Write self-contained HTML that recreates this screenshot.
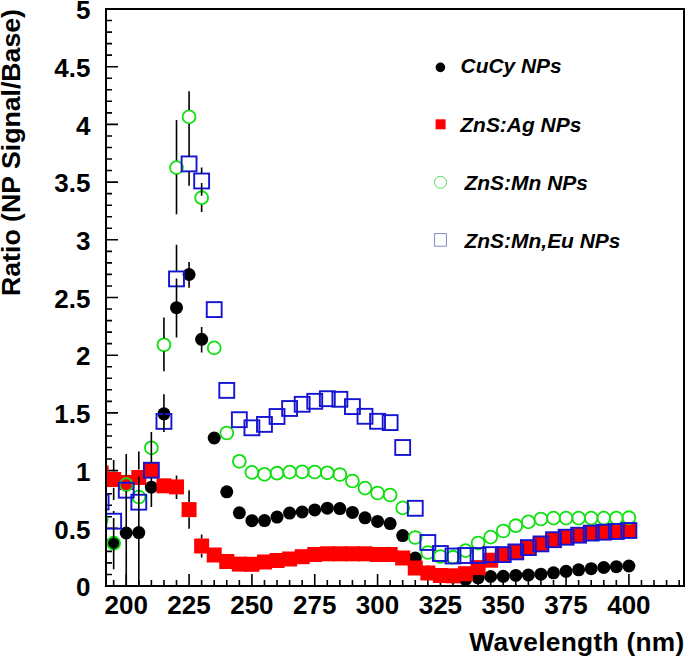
<!DOCTYPE html><html><head><meta charset="utf-8"><style>html,body{margin:0;padding:0;background:#fff;}svg{display:block;}text{font-family:"Liberation Sans",sans-serif;font-weight:bold;}</style></head><body>
<svg width="685" height="658" viewBox="0 0 685 658">
<defs><clipPath id="c"><rect x="107" y="10" width="576" height="575"/></clipPath></defs>
<path d="M107 586.00h11 M107 574.46h5 M107 562.92h5 M107 551.38h5 M107 539.84h5 M107 528.30h11 M107 516.76h5 M107 505.22h5 M107 493.68h5 M107 482.14h5 M107 470.60h11 M107 459.06h5 M107 447.52h5 M107 435.98h5 M107 424.44h5 M107 412.90h11 M107 401.36h5 M107 389.82h5 M107 378.28h5 M107 366.74h5 M107 355.20h11 M107 343.66h5 M107 332.12h5 M107 320.58h5 M107 309.04h5 M107 297.50h11 M107 285.96h5 M107 274.42h5 M107 262.88h5 M107 251.34h5 M107 239.80h11 M107 228.26h5 M107 216.72h5 M107 205.18h5 M107 193.64h5 M107 182.10h11 M107 170.56h5 M107 159.02h5 M107 147.48h5 M107 135.94h5 M107 124.40h11 M107 112.86h5 M107 101.32h5 M107 89.78h5 M107 78.24h5 M107 66.70h11 M107 55.16h5 M107 43.62h5 M107 32.08h5 M107 20.54h5 M107 9.00h11 M113.67 585v-5 M126.24 585v-11 M138.81 585v-5 M151.37 585v-5 M163.94 585v-5 M176.51 585v-5 M189.07 585v-11 M201.64 585v-5 M214.21 585v-5 M226.77 585v-5 M239.34 585v-5 M251.91 585v-11 M264.47 585v-5 M277.04 585v-5 M289.60 585v-5 M302.17 585v-5 M314.74 585v-11 M327.30 585v-5 M339.87 585v-5 M352.44 585v-5 M365.00 585v-5 M377.57 585v-11 M390.14 585v-5 M402.70 585v-5 M415.27 585v-5 M427.84 585v-5 M440.40 585v-11 M452.97 585v-5 M465.54 585v-5 M478.10 585v-5 M490.67 585v-5 M503.24 585v-11 M515.80 585v-5 M528.37 585v-5 M540.93 585v-5 M553.50 585v-5 M566.07 585v-11 M578.63 585v-5 M591.20 585v-5 M603.77 585v-5 M616.33 585v-5 M628.90 585v-11 M641.47 585v-5 M654.03 585v-5 M666.60 585v-5 M679.17 585v-5" stroke="#000" stroke-width="1.6" fill="none"/>
<g clip-path="url(#c)">
<circle cx="113.67" cy="543.2" r="6.5" fill="#000"/>
<circle cx="126.24" cy="533" r="6.5" fill="#000"/>
<circle cx="138.81" cy="532.6" r="6.5" fill="#000"/>
<circle cx="151.37" cy="487.2" r="6.5" fill="#000"/>
<circle cx="163.94" cy="413.8" r="6.5" fill="#000"/>
<circle cx="176.51" cy="307.7" r="6.5" fill="#000"/>
<circle cx="189.07" cy="274.5" r="6.5" fill="#000"/>
<circle cx="201.64" cy="339.3" r="6.5" fill="#000"/>
<circle cx="214.21" cy="438" r="6.5" fill="#000"/>
<circle cx="226.77" cy="491.8" r="6.5" fill="#000"/>
<circle cx="239.34" cy="512.8" r="6.5" fill="#000"/>
<circle cx="251.91" cy="520.7" r="6.5" fill="#000"/>
<circle cx="264.47" cy="520.6" r="6.5" fill="#000"/>
<circle cx="277.04" cy="517.1" r="6.5" fill="#000"/>
<circle cx="289.60" cy="513.1" r="6.5" fill="#000"/>
<circle cx="302.17" cy="512" r="6.5" fill="#000"/>
<circle cx="314.74" cy="509.9" r="6.5" fill="#000"/>
<circle cx="327.30" cy="508.2" r="6.5" fill="#000"/>
<circle cx="339.87" cy="508.6" r="6.5" fill="#000"/>
<circle cx="352.44" cy="512.4" r="6.5" fill="#000"/>
<circle cx="365.00" cy="517.8" r="6.5" fill="#000"/>
<circle cx="377.57" cy="521.4" r="6.5" fill="#000"/>
<circle cx="390.14" cy="523.6" r="6.5" fill="#000"/>
<circle cx="402.70" cy="535.6" r="6.5" fill="#000"/>
<circle cx="415.27" cy="558" r="6.5" fill="#000"/>
<circle cx="427.84" cy="572" r="6.5" fill="#000"/>
<circle cx="440.40" cy="576" r="6.5" fill="#000"/>
<circle cx="452.97" cy="577" r="6.5" fill="#000"/>
<circle cx="465.54" cy="579.5" r="6.5" fill="#000"/>
<circle cx="478.10" cy="577.8" r="6.5" fill="#000"/>
<circle cx="490.67" cy="576.5" r="6.5" fill="#000"/>
<circle cx="503.24" cy="576.3" r="6.5" fill="#000"/>
<circle cx="515.80" cy="575.4" r="6.5" fill="#000"/>
<circle cx="528.37" cy="575.0" r="6.5" fill="#000"/>
<circle cx="540.93" cy="574.2" r="6.5" fill="#000"/>
<circle cx="553.50" cy="572.8" r="6.5" fill="#000"/>
<circle cx="566.07" cy="571.3" r="6.5" fill="#000"/>
<circle cx="578.63" cy="569.8" r="6.5" fill="#000"/>
<circle cx="591.20" cy="568.7" r="6.5" fill="#000"/>
<circle cx="603.77" cy="567.5" r="6.5" fill="#000"/>
<circle cx="616.33" cy="566.7" r="6.5" fill="#000"/>
<circle cx="628.90" cy="566" r="6.5" fill="#000"/>
<rect x="93.61" y="465.50" width="15.0" height="15.0" fill="#f00"/>
<rect x="106.17" y="472.00" width="15.0" height="15.0" fill="#f00"/>
<rect x="118.74" y="475.00" width="15.0" height="15.0" fill="#f00"/>
<rect x="131.31" y="470.00" width="15.0" height="15.0" fill="#f00"/>
<rect x="143.87" y="462.70" width="15.0" height="15.0" fill="#f00"/>
<rect x="156.44" y="478.30" width="15.0" height="15.0" fill="#f00"/>
<rect x="169.01" y="479.40" width="15.0" height="15.0" fill="#f00"/>
<rect x="181.57" y="502.10" width="15.0" height="15.0" fill="#f00"/>
<rect x="194.14" y="538.50" width="15.0" height="15.0" fill="#f00"/>
<rect x="206.71" y="547.50" width="15.0" height="15.0" fill="#f00"/>
<rect x="219.27" y="554.00" width="15.0" height="15.0" fill="#f00"/>
<rect x="231.84" y="556.60" width="15.0" height="15.0" fill="#f00"/>
<rect x="244.41" y="556.80" width="15.0" height="15.0" fill="#f00"/>
<rect x="256.97" y="554.50" width="15.0" height="15.0" fill="#f00"/>
<rect x="269.54" y="553.00" width="15.0" height="15.0" fill="#f00"/>
<rect x="282.10" y="551.50" width="15.0" height="15.0" fill="#f00"/>
<rect x="294.67" y="549.20" width="15.0" height="15.0" fill="#f00"/>
<rect x="307.24" y="547.00" width="15.0" height="15.0" fill="#f00"/>
<rect x="319.80" y="546.30" width="15.0" height="15.0" fill="#f00"/>
<rect x="332.37" y="546.30" width="15.0" height="15.0" fill="#f00"/>
<rect x="344.94" y="546.30" width="15.0" height="15.0" fill="#f00"/>
<rect x="357.50" y="546.30" width="15.0" height="15.0" fill="#f00"/>
<rect x="370.07" y="547.00" width="15.0" height="15.0" fill="#f00"/>
<rect x="382.64" y="547.00" width="15.0" height="15.0" fill="#f00"/>
<rect x="395.20" y="550.50" width="15.0" height="15.0" fill="#f00"/>
<rect x="407.77" y="560.50" width="15.0" height="15.0" fill="#f00"/>
<rect x="420.34" y="565.50" width="15.0" height="15.0" fill="#f00"/>
<rect x="432.90" y="568.00" width="15.0" height="15.0" fill="#f00"/>
<rect x="445.47" y="568.30" width="15.0" height="15.0" fill="#f00"/>
<rect x="458.04" y="566.20" width="15.0" height="15.0" fill="#f00"/>
<rect x="470.60" y="560.10" width="15.0" height="15.0" fill="#f00"/>
<rect x="483.17" y="552.70" width="15.0" height="15.0" fill="#f00"/>
<rect x="495.74" y="547.10" width="15.0" height="15.0" fill="#f00"/>
<rect x="508.30" y="544.50" width="15.0" height="15.0" fill="#f00"/>
<rect x="520.87" y="540.20" width="15.0" height="15.0" fill="#f00"/>
<rect x="533.43" y="537.00" width="15.0" height="15.0" fill="#f00"/>
<rect x="546.00" y="532.70" width="15.0" height="15.0" fill="#f00"/>
<rect x="558.57" y="530.10" width="15.0" height="15.0" fill="#f00"/>
<rect x="571.13" y="528.00" width="15.0" height="15.0" fill="#f00"/>
<rect x="583.70" y="526.00" width="15.0" height="15.0" fill="#f00"/>
<rect x="596.27" y="525.00" width="15.0" height="15.0" fill="#f00"/>
<rect x="608.83" y="524.30" width="15.0" height="15.0" fill="#f00"/>
<rect x="621.40" y="523.30" width="15.0" height="15.0" fill="#f00"/>
<circle cx="101.11" cy="520" r="6.45" fill="none" stroke="#10e010" stroke-width="1.8"/>
<circle cx="113.67" cy="543.2" r="6.45" fill="none" stroke="#10e010" stroke-width="1.8"/>
<circle cx="126.24" cy="484.6" r="6.45" fill="none" stroke="#10e010" stroke-width="1.8"/>
<circle cx="138.81" cy="497" r="6.45" fill="none" stroke="#10e010" stroke-width="1.8"/>
<circle cx="151.37" cy="447.8" r="6.45" fill="none" stroke="#10e010" stroke-width="1.8"/>
<circle cx="163.94" cy="344.8" r="6.45" fill="none" stroke="#10e010" stroke-width="1.8"/>
<circle cx="176.51" cy="167.6" r="6.45" fill="none" stroke="#10e010" stroke-width="1.8"/>
<circle cx="189.07" cy="116.9" r="6.45" fill="none" stroke="#10e010" stroke-width="1.8"/>
<circle cx="201.64" cy="197.7" r="6.45" fill="none" stroke="#10e010" stroke-width="1.8"/>
<circle cx="214.21" cy="347.9" r="6.45" fill="none" stroke="#10e010" stroke-width="1.8"/>
<circle cx="226.77" cy="433" r="6.45" fill="none" stroke="#10e010" stroke-width="1.8"/>
<circle cx="239.34" cy="461.3" r="6.45" fill="none" stroke="#10e010" stroke-width="1.8"/>
<circle cx="251.91" cy="472.4" r="6.45" fill="none" stroke="#10e010" stroke-width="1.8"/>
<circle cx="264.47" cy="474.3" r="6.45" fill="none" stroke="#10e010" stroke-width="1.8"/>
<circle cx="277.04" cy="473.2" r="6.45" fill="none" stroke="#10e010" stroke-width="1.8"/>
<circle cx="289.60" cy="472.1" r="6.45" fill="none" stroke="#10e010" stroke-width="1.8"/>
<circle cx="302.17" cy="471.8" r="6.45" fill="none" stroke="#10e010" stroke-width="1.8"/>
<circle cx="314.74" cy="472.0" r="6.45" fill="none" stroke="#10e010" stroke-width="1.8"/>
<circle cx="327.30" cy="472.8" r="6.45" fill="none" stroke="#10e010" stroke-width="1.8"/>
<circle cx="339.87" cy="474.5" r="6.45" fill="none" stroke="#10e010" stroke-width="1.8"/>
<circle cx="352.44" cy="481" r="6.45" fill="none" stroke="#10e010" stroke-width="1.8"/>
<circle cx="365.00" cy="488.1" r="6.45" fill="none" stroke="#10e010" stroke-width="1.8"/>
<circle cx="377.57" cy="493" r="6.45" fill="none" stroke="#10e010" stroke-width="1.8"/>
<circle cx="390.14" cy="495" r="6.45" fill="none" stroke="#10e010" stroke-width="1.8"/>
<circle cx="402.70" cy="507.9" r="6.45" fill="none" stroke="#10e010" stroke-width="1.8"/>
<circle cx="415.27" cy="537.5" r="6.45" fill="none" stroke="#10e010" stroke-width="1.8"/>
<circle cx="427.84" cy="552.5" r="6.45" fill="none" stroke="#10e010" stroke-width="1.8"/>
<circle cx="440.40" cy="556.5" r="6.45" fill="none" stroke="#10e010" stroke-width="1.8"/>
<circle cx="452.97" cy="557.2" r="6.45" fill="none" stroke="#10e010" stroke-width="1.8"/>
<circle cx="465.54" cy="550.6" r="6.45" fill="none" stroke="#10e010" stroke-width="1.8"/>
<circle cx="478.10" cy="543" r="6.45" fill="none" stroke="#10e010" stroke-width="1.8"/>
<circle cx="490.67" cy="537.1" r="6.45" fill="none" stroke="#10e010" stroke-width="1.8"/>
<circle cx="503.24" cy="531" r="6.45" fill="none" stroke="#10e010" stroke-width="1.8"/>
<circle cx="515.80" cy="525.7" r="6.45" fill="none" stroke="#10e010" stroke-width="1.8"/>
<circle cx="528.37" cy="521.9" r="6.45" fill="none" stroke="#10e010" stroke-width="1.8"/>
<circle cx="540.93" cy="519" r="6.45" fill="none" stroke="#10e010" stroke-width="1.8"/>
<circle cx="553.50" cy="518.1" r="6.45" fill="none" stroke="#10e010" stroke-width="1.8"/>
<circle cx="566.07" cy="518.1" r="6.45" fill="none" stroke="#10e010" stroke-width="1.8"/>
<circle cx="578.63" cy="518.1" r="6.45" fill="none" stroke="#10e010" stroke-width="1.8"/>
<circle cx="591.20" cy="518.1" r="6.45" fill="none" stroke="#10e010" stroke-width="1.8"/>
<circle cx="603.77" cy="518.1" r="6.45" fill="none" stroke="#10e010" stroke-width="1.8"/>
<circle cx="616.33" cy="518.1" r="6.45" fill="none" stroke="#10e010" stroke-width="1.8"/>
<circle cx="628.90" cy="517.7" r="6.45" fill="none" stroke="#10e010" stroke-width="1.8"/>
<rect x="93.66" y="494.55" width="14.9" height="14.9" fill="none" stroke="#1414d2" stroke-width="1.9"/>
<rect x="106.22" y="513.75" width="14.9" height="14.9" fill="none" stroke="#1414d2" stroke-width="1.9"/>
<rect x="118.79" y="482.75" width="14.9" height="14.9" fill="none" stroke="#1414d2" stroke-width="1.9"/>
<rect x="131.36" y="494.75" width="14.9" height="14.9" fill="none" stroke="#1414d2" stroke-width="1.9"/>
<rect x="143.92" y="462.75" width="14.9" height="14.9" fill="none" stroke="#1414d2" stroke-width="1.9"/>
<rect x="156.49" y="413.95" width="14.9" height="14.9" fill="none" stroke="#1414d2" stroke-width="1.9"/>
<rect x="169.06" y="271.45" width="14.9" height="14.9" fill="none" stroke="#1414d2" stroke-width="1.9"/>
<rect x="181.62" y="156.45" width="14.9" height="14.9" fill="none" stroke="#1414d2" stroke-width="1.9"/>
<rect x="194.19" y="173.55" width="14.9" height="14.9" fill="none" stroke="#1414d2" stroke-width="1.9"/>
<rect x="206.76" y="302.15" width="14.9" height="14.9" fill="none" stroke="#1414d2" stroke-width="1.9"/>
<rect x="219.32" y="382.95" width="14.9" height="14.9" fill="none" stroke="#1414d2" stroke-width="1.9"/>
<rect x="231.89" y="412.25" width="14.9" height="14.9" fill="none" stroke="#1414d2" stroke-width="1.9"/>
<rect x="244.46" y="420.35" width="14.9" height="14.9" fill="none" stroke="#1414d2" stroke-width="1.9"/>
<rect x="257.02" y="416.95" width="14.9" height="14.9" fill="none" stroke="#1414d2" stroke-width="1.9"/>
<rect x="269.59" y="409.05" width="14.9" height="14.9" fill="none" stroke="#1414d2" stroke-width="1.9"/>
<rect x="282.15" y="401.05" width="14.9" height="14.9" fill="none" stroke="#1414d2" stroke-width="1.9"/>
<rect x="294.72" y="396.85" width="14.9" height="14.9" fill="none" stroke="#1414d2" stroke-width="1.9"/>
<rect x="307.29" y="393.85" width="14.9" height="14.9" fill="none" stroke="#1414d2" stroke-width="1.9"/>
<rect x="319.85" y="391.25" width="14.9" height="14.9" fill="none" stroke="#1414d2" stroke-width="1.9"/>
<rect x="332.42" y="391.85" width="14.9" height="14.9" fill="none" stroke="#1414d2" stroke-width="1.9"/>
<rect x="344.99" y="399.15" width="14.9" height="14.9" fill="none" stroke="#1414d2" stroke-width="1.9"/>
<rect x="357.55" y="408.85" width="14.9" height="14.9" fill="none" stroke="#1414d2" stroke-width="1.9"/>
<rect x="370.12" y="413.85" width="14.9" height="14.9" fill="none" stroke="#1414d2" stroke-width="1.9"/>
<rect x="382.69" y="415.15" width="14.9" height="14.9" fill="none" stroke="#1414d2" stroke-width="1.9"/>
<rect x="395.25" y="440.05" width="14.9" height="14.9" fill="none" stroke="#1414d2" stroke-width="1.9"/>
<rect x="407.82" y="500.85" width="14.9" height="14.9" fill="none" stroke="#1414d2" stroke-width="1.9"/>
<rect x="420.39" y="535.05" width="14.9" height="14.9" fill="none" stroke="#1414d2" stroke-width="1.9"/>
<rect x="432.95" y="546.05" width="14.9" height="14.9" fill="none" stroke="#1414d2" stroke-width="1.9"/>
<rect x="445.52" y="548.55" width="14.9" height="14.9" fill="none" stroke="#1414d2" stroke-width="1.9"/>
<rect x="458.09" y="548.05" width="14.9" height="14.9" fill="none" stroke="#1414d2" stroke-width="1.9"/>
<rect x="470.65" y="548.05" width="14.9" height="14.9" fill="none" stroke="#1414d2" stroke-width="1.9"/>
<rect x="483.22" y="547.15" width="14.9" height="14.9" fill="none" stroke="#1414d2" stroke-width="1.9"/>
<rect x="495.79" y="547.15" width="14.9" height="14.9" fill="none" stroke="#1414d2" stroke-width="1.9"/>
<rect x="508.35" y="544.45" width="14.9" height="14.9" fill="none" stroke="#1414d2" stroke-width="1.9"/>
<rect x="520.92" y="540.15" width="14.9" height="14.9" fill="none" stroke="#1414d2" stroke-width="1.9"/>
<rect x="533.48" y="536.45" width="14.9" height="14.9" fill="none" stroke="#1414d2" stroke-width="1.9"/>
<rect x="546.05" y="532.25" width="14.9" height="14.9" fill="none" stroke="#1414d2" stroke-width="1.9"/>
<rect x="558.62" y="529.75" width="14.9" height="14.9" fill="none" stroke="#1414d2" stroke-width="1.9"/>
<rect x="571.18" y="527.75" width="14.9" height="14.9" fill="none" stroke="#1414d2" stroke-width="1.9"/>
<rect x="583.75" y="525.65" width="14.9" height="14.9" fill="none" stroke="#1414d2" stroke-width="1.9"/>
<rect x="596.32" y="524.75" width="14.9" height="14.9" fill="none" stroke="#1414d2" stroke-width="1.9"/>
<rect x="608.88" y="524.05" width="14.9" height="14.9" fill="none" stroke="#1414d2" stroke-width="1.9"/>
<rect x="621.45" y="523.05" width="14.9" height="14.9" fill="none" stroke="#1414d2" stroke-width="1.9"/>
<path d="M113.67 460V471.4 M113.67 487.8V500.1 M113.67 511V513.2 M113.67 518V569.2 M126.24 454.1V476 M126.24 491V586 M138.81 451.4V469.6 M138.81 476.4V586 M151.37 432V462.4 M151.37 478V506.9 M163.94 317.4V338.2 M163.94 351.4V371.2 M163.94 394.2V432 M176.51 120.1V160.6 M176.51 174.6V214.3 M176.51 244.8V270.7 M176.51 278.5V337.5 M176.51 475.6V479.6 M176.51 494.2V498.9 M189.07 91.3V109.9 M189.07 124V156.2 M189.07 172V185.8 M189.07 262V287.7 M189.07 490.2V502 M189.07 517.2V528.7 M201.64 167.6V173.6 M201.64 183V195.7 M201.64 204.8V211.9 M201.64 327V352.6 M201.64 534.6V538.5 M201.64 553.8V557.6" stroke="#000" stroke-width="1.6" fill="none"/>
</g>
<rect x="106" y="9" width="578" height="577" fill="none" stroke="#000" stroke-width="2"/>
<text x="90.5" y="596.25" font-size="26" text-anchor="end">0</text>
<text x="90.5" y="538.55" font-size="26" text-anchor="end">0.5</text>
<text x="90.5" y="480.85" font-size="26" text-anchor="end">1</text>
<text x="90.5" y="423.15" font-size="26" text-anchor="end">1.5</text>
<text x="90.5" y="365.45" font-size="26" text-anchor="end">2</text>
<text x="90.5" y="307.75" font-size="26" text-anchor="end">2.5</text>
<text x="90.5" y="250.05" font-size="26" text-anchor="end">3</text>
<text x="90.5" y="192.35" font-size="26" text-anchor="end">3.5</text>
<text x="90.5" y="134.65" font-size="26" text-anchor="end">4</text>
<text x="90.5" y="76.95" font-size="26" text-anchor="end">4.5</text>
<text x="90.5" y="19.25" font-size="26" text-anchor="end">5</text>
<text x="126.24" y="613.5" font-size="26" text-anchor="middle">200</text>
<text x="189.07" y="613.5" font-size="26" text-anchor="middle">225</text>
<text x="251.91" y="613.5" font-size="26" text-anchor="middle">250</text>
<text x="314.74" y="613.5" font-size="26" text-anchor="middle">275</text>
<text x="377.57" y="613.5" font-size="26" text-anchor="middle">300</text>
<text x="440.40" y="613.5" font-size="26" text-anchor="middle">325</text>
<text x="503.24" y="613.5" font-size="26" text-anchor="middle">350</text>
<text x="566.07" y="613.5" font-size="26" text-anchor="middle">375</text>
<text x="628.90" y="613.5" font-size="26" text-anchor="middle">400</text>
<text x="469.3" y="651" font-size="26.3" textLength="215" lengthAdjust="spacing">Wavelength (nm)</text>
<text transform="translate(20,296) rotate(-90)" x="0" y="0" font-size="26" textLength="287" lengthAdjust="spacingAndGlyphs">Ratio (NP Signal/Base)</text>
<circle cx="440.4" cy="67.4" r="4.8" fill="#000"/>
<rect x="435.6" y="119.3" width="10" height="10" fill="#f00"/>
<circle cx="440.5" cy="182.3" r="6" fill="none" stroke="#3c3" stroke-width="1" opacity="0.8"/>
<rect x="434.6" y="233.6" width="11.8" height="12.6" fill="none" stroke="#88c" stroke-width="1"/>
<text x="460.6" y="72.8" font-size="20.2" font-style="italic" textLength="101" lengthAdjust="spacingAndGlyphs">CuCy NPs</text>
<text x="460.3" y="131.7" font-size="20.2" font-style="italic" textLength="121" lengthAdjust="spacingAndGlyphs">ZnS:Ag NPs</text>
<text x="464.5" y="189.7" font-size="20.2" font-style="italic" textLength="123.5" lengthAdjust="spacingAndGlyphs">ZnS:Mn NPs</text>
<text x="464.5" y="247.5" font-size="20.2" font-style="italic" textLength="156" lengthAdjust="spacingAndGlyphs">ZnS:Mn,Eu NPs</text>
</svg></body></html>
